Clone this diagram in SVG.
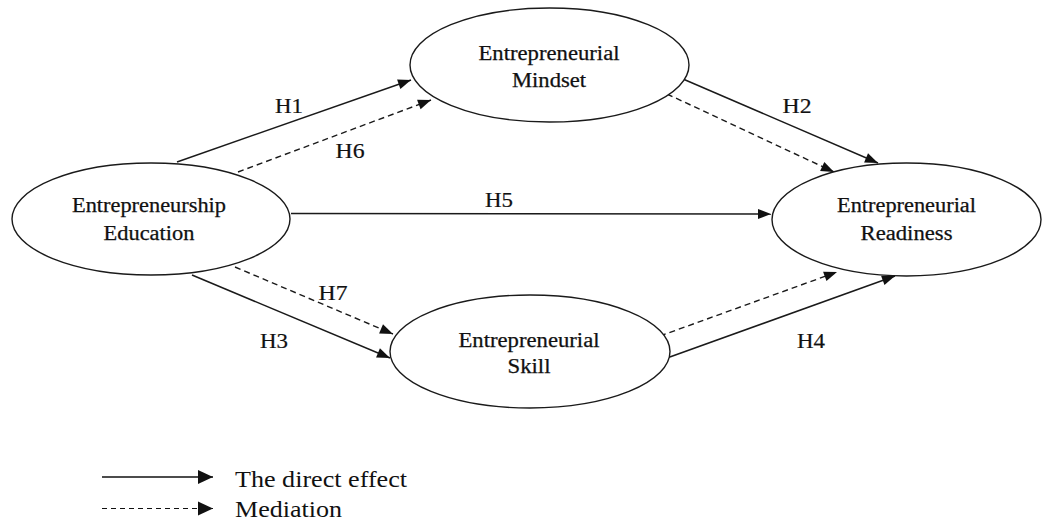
<svg xmlns="http://www.w3.org/2000/svg" width="1053" height="524" viewBox="0 0 1053 524">
  <style>
    .node ellipse { fill: #ffffff; stroke: #1a1a1a; stroke-width: 1.4; }
    .node text { font-family: "Liberation Serif", "Times New Roman", serif; font-size: 20px; fill: #111; stroke: #111; stroke-width: 0.25; text-anchor: middle; }
    .lbl { font-family: "Liberation Serif", "Times New Roman", serif; font-size: 21px; fill: #111; stroke: #111; stroke-width: 0.2; text-anchor: middle; }
    .legend text { font-family: "Liberation Serif", "Times New Roman", serif; font-size: 24px; fill: #111; }
    .direct { fill: none; stroke: #1a1a1a; stroke-width: 1.5; marker-end: url(#arr); }
    .med { fill: none; stroke: #1a1a1a; stroke-width: 1.4; stroke-dasharray: 6 4; marker-end: url(#arr); }
    .lg-direct { fill: none; stroke: #111; stroke-width: 1.5; marker-end: url(#arrL); }
    .lg-med { fill: none; stroke: #111; stroke-width: 1.2; stroke-dasharray: 5 4; marker-end: url(#arrL); }
  </style>
  <defs>
    <marker id="arr" markerUnits="userSpaceOnUse" markerWidth="14" markerHeight="11" refX="13" refY="5" orient="auto" overflow="visible">
      <path d="M0,0 L13,5 L0,10 Z" fill="#111"/>
    </marker>
    <marker id="arrL" markerUnits="userSpaceOnUse" markerWidth="16" markerHeight="15" refX="15" refY="7" orient="auto" overflow="visible">
      <path d="M0,0 L15,7 L0,14 Z" fill="#111"/>
    </marker>
  </defs>
  <rect width="1053" height="524" fill="#ffffff"/>

  <g id="connectors">
    <path id="c-h1" class="direct" d="M177,162 L411,80"/>
    <path id="c-h6" class="med" d="M238,172 L431,100"/>
    <path id="c-h5" class="direct" d="M291,213.5 L771,214"/>
    <path id="c-h2" class="direct" d="M683,79 L878,163"/>
    <path id="c-h2m" class="med" d="M667,94 L834,172"/>
    <path id="c-h3" class="direct" d="M192,275 L390,358"/>
    <path id="c-h7" class="med" d="M235,267 L393,334"/>
    <path id="c-h4" class="direct" d="M667,358 L895,276"/>
    <path id="c-h4m" class="med" d="M660,336 L837,272"/>
  </g>

  <g id="node-education" class="node">
    <ellipse cx="151" cy="219" rx="139" ry="56"/>
    <text x="149" y="212" textLength="154" lengthAdjust="spacingAndGlyphs">Entrepreneurship</text>
    <text x="149" y="240" textLength="91" lengthAdjust="spacingAndGlyphs">Education</text>
  </g>

  <g id="node-mindset" class="node">
    <ellipse cx="549.5" cy="65" rx="139.5" ry="57"/>
    <text x="549" y="60" textLength="141" lengthAdjust="spacingAndGlyphs">Entrepreneurial</text>
    <text x="549" y="87" textLength="74" lengthAdjust="spacingAndGlyphs">Mindset</text>
  </g>

  <g id="node-readiness" class="node">
    <ellipse cx="906.5" cy="219.5" rx="134.5" ry="56.5"/>
    <text x="906.5" y="212" textLength="139" lengthAdjust="spacingAndGlyphs">Entrepreneurial</text>
    <text x="906.5" y="240" textLength="92" lengthAdjust="spacingAndGlyphs">Readiness</text>
  </g>

  <g id="node-skill" class="node">
    <ellipse cx="530" cy="351.5" rx="140" ry="56.5"/>
    <text x="529" y="347" textLength="141" lengthAdjust="spacingAndGlyphs">Entrepreneurial</text>
    <text x="529" y="373" textLength="43" lengthAdjust="spacingAndGlyphs">Skill</text>
  </g>

  <g id="labels">
    <text class="lbl" x="289" y="113" textLength="28" lengthAdjust="spacingAndGlyphs">H1</text>
    <text class="lbl" x="350" y="158" textLength="29" lengthAdjust="spacingAndGlyphs">H6</text>
    <text class="lbl" x="499" y="207" textLength="28" lengthAdjust="spacingAndGlyphs">H5</text>
    <text class="lbl" x="797" y="113" textLength="29" lengthAdjust="spacingAndGlyphs">H2</text>
    <text class="lbl" x="333" y="300" textLength="29" lengthAdjust="spacingAndGlyphs">H7</text>
    <text class="lbl" x="274" y="348" textLength="28" lengthAdjust="spacingAndGlyphs">H3</text>
    <text class="lbl" x="811" y="348" textLength="28" lengthAdjust="spacingAndGlyphs">H4</text>
  </g>

  <g id="legend" class="legend">
    <path class="lg-direct" d="M102,477 L213,477"/>
    <path class="lg-med" d="M102,508.5 L213,508.5"/>
    <text x="235" y="487" textLength="172" lengthAdjust="spacingAndGlyphs">The direct effect</text>
    <text x="235" y="517" textLength="107" lengthAdjust="spacingAndGlyphs">Mediation</text>
  </g>
</svg>
